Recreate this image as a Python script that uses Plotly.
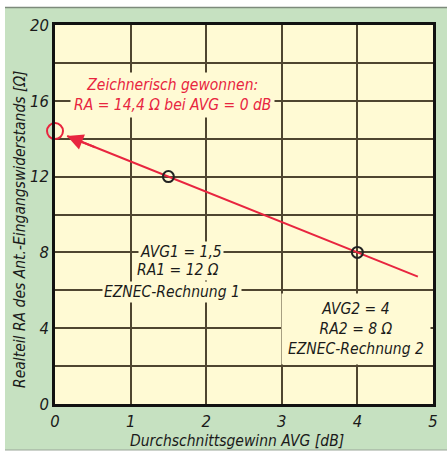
import plotly.graph_objects as go

# Data
AVG_POINTS = [1.5, 4.0]          # EZNEC calculations
RA_POINTS = [12.0, 8.0]
AVG_EXTRAP = [0.0]               # graphically obtained
RA_EXTRAP = [14.4]
LINE_AVG = [0.16, 4.8]           # red line extent
LINE_RA = [14.14, 6.72]
X_TICKS = [0, 1, 2, 3, 4, 5]
Y_TICKS = [0, 4, 8, 12, 16, 20]

RED = "#e8253f"
GRID = "#4f4530"
YELLOW = "#fffad4"
GREEN = "#c6e1c1"
FONT = "DejaVu Sans Condensed, Liberation Sans, Arial, sans-serif"

fig = go.Figure()

fig.add_trace(go.Scatter(
    x=LINE_AVG, y=LINE_RA, mode="lines",
    line=dict(color=RED, width=2), hoverinfo="skip"))

fig.add_trace(go.Scatter(
    x=AVG_POINTS, y=RA_POINTS, mode="markers",
    marker=dict(symbol="circle-open", size=11, color="#222222",
                line=dict(width=2, color="#222222"))))

fig.add_trace(go.Scatter(
    x=AVG_EXTRAP, y=RA_EXTRAP, mode="markers", cliponaxis=False,
    marker=dict(symbol="circle-open", size=16, color=RED,
                line=dict(width=2, color=RED))))

# arrow head
fig.add_annotation(x=LINE_AVG[0], y=LINE_RA[0], ax=0.55, ay=14.4 - 1.6 * 0.55,
                   xref="x", yref="y", axref="x", ayref="y", text="",
                   showarrow=True, arrowhead=2, arrowsize=1.6, arrowwidth=2,
                   arrowcolor=RED, standoff=0)

FS = 15.5
tfont = dict(family=FONT, size=FS, color="#1a1a1a", style="italic")
rfont = dict(family=FONT, size=FS, color=RED, style="italic")

fig.add_annotation(x=1.56, y=16.3, xref="x", yref="y", showarrow=False,
                   text="Zeichnerisch gewonnen:<br>RA = 14,4 Ω bei AVG = 0 dB",
                   font=rfont, bgcolor=YELLOW, borderpad=3)

for txt, xx, yy in [("AVG1 = 1,5", 1.667, 8.02),
                    ("RA1 = 12 Ω", 1.627, 7.07),
                    ("EZNEC-Rechnung 1", 1.548, 5.91)]:
    fig.add_annotation(x=xx, y=yy, xref="x", yref="y", showarrow=False,
                       text=txt, font=tfont, bgcolor=YELLOW, borderpad=1)

fig.add_annotation(x=3.98, y=3.95, xref="x", yref="y", showarrow=False,
                   text="AVG2 = 4<br>RA2 = 8 Ω<br>EZNEC-Rechnung 2",
                   font=tfont, bgcolor=YELLOW, borderpad=6)

W, H = 378.0, 379.0
def px_x(p):
    return (p - 55) / W
def px_y(p):
    return (404 - p) / H

# axis titles as annotations for precise placement
fig.add_annotation(x=px_x(237), y=px_y(441), xref="paper", yref="paper",
                   xanchor="center", yanchor="middle",
                   showarrow=False, text="Durchschnittsgewinn AVG [dB]",
                   font=dict(family=FONT, size=FS, color="#1a1a1a", style="italic"))
fig.add_annotation(x=px_x(20), y=px_y(229), xref="paper", yref="paper",
                   xanchor="center", yanchor="middle",
                   showarrow=False, textangle=-90,
                   text="Realteil RA des Ant.-Eingangswiderstands [Ω]",
                   font=dict(family=FONT, size=FS, color="#1a1a1a", style="italic"))

# white margins outside the green panel
fig.add_shape(type="rect", xref="paper", yref="paper",
              x0=px_x(-5), x1=px_x(455), y0=px_y(7.5), y1=px_y(-5),
              fillcolor="white", line=dict(width=0), layer="below")
fig.add_shape(type="rect", xref="paper", yref="paper",
              x0=px_x(-5), x1=px_x(5), y0=px_y(460), y1=px_y(-5),
              fillcolor="white", line=dict(width=0), layer="below")
fig.add_shape(type="rect", xref="paper", yref="paper",
              x0=px_x(-5), x1=px_x(455), y0=px_y(460), y1=px_y(450),
              fillcolor="white", line=dict(width=0), layer="below")
fig.add_shape(type="line", xref="paper", yref="paper",
              x0=px_x(5), x1=px_x(447), y0=px_y(7.5), y1=px_y(7.5),
              line=dict(color="#7d8a7b", width=1.5))
fig.add_shape(type="line", xref="paper", yref="paper",
              x0=px_x(5), x1=px_x(447), y0=px_y(450), y1=px_y(450),
              line=dict(color="#9aa598", width=1))

fig.update_xaxes(range=[0, 5], tickvals=X_TICKS, ticktext=[str(v) for v in X_TICKS],
                 showgrid=True, gridcolor=GRID, gridwidth=1.5,
                 showline=True, linecolor="#111111", linewidth=2.5, mirror=True,
                 ticks="", zeroline=False,
                 tickfont=dict(family=FONT, size=16.5, color="#1a1a1a", style="italic"))
fig.update_yaxes(range=[0, 20], tickvals=Y_TICKS, ticktext=[str(v) for v in Y_TICKS],
                 showgrid=True, gridcolor=GRID, gridwidth=1.5,
                 minor=dict(dtick=2, showgrid=True, gridcolor=GRID, gridwidth=1.5),
                 showline=True, linecolor="#111111", linewidth=2.5, mirror=True,
                 ticks="", zeroline=False,
                 tickfont=dict(family=FONT, size=16.5, color="#1a1a1a", style="italic"))

fig.update_layout(width=447, height=453,
                  margin=dict(l=55, r=14, t=25, b=49, autoexpand=False),
                  paper_bgcolor=GREEN, plot_bgcolor=YELLOW, showlegend=False)

fig.write_html("out.html", config={"displayModeBar": False},
               post_script="document.body.style.margin='0';document.body.style.overflow='hidden';")
